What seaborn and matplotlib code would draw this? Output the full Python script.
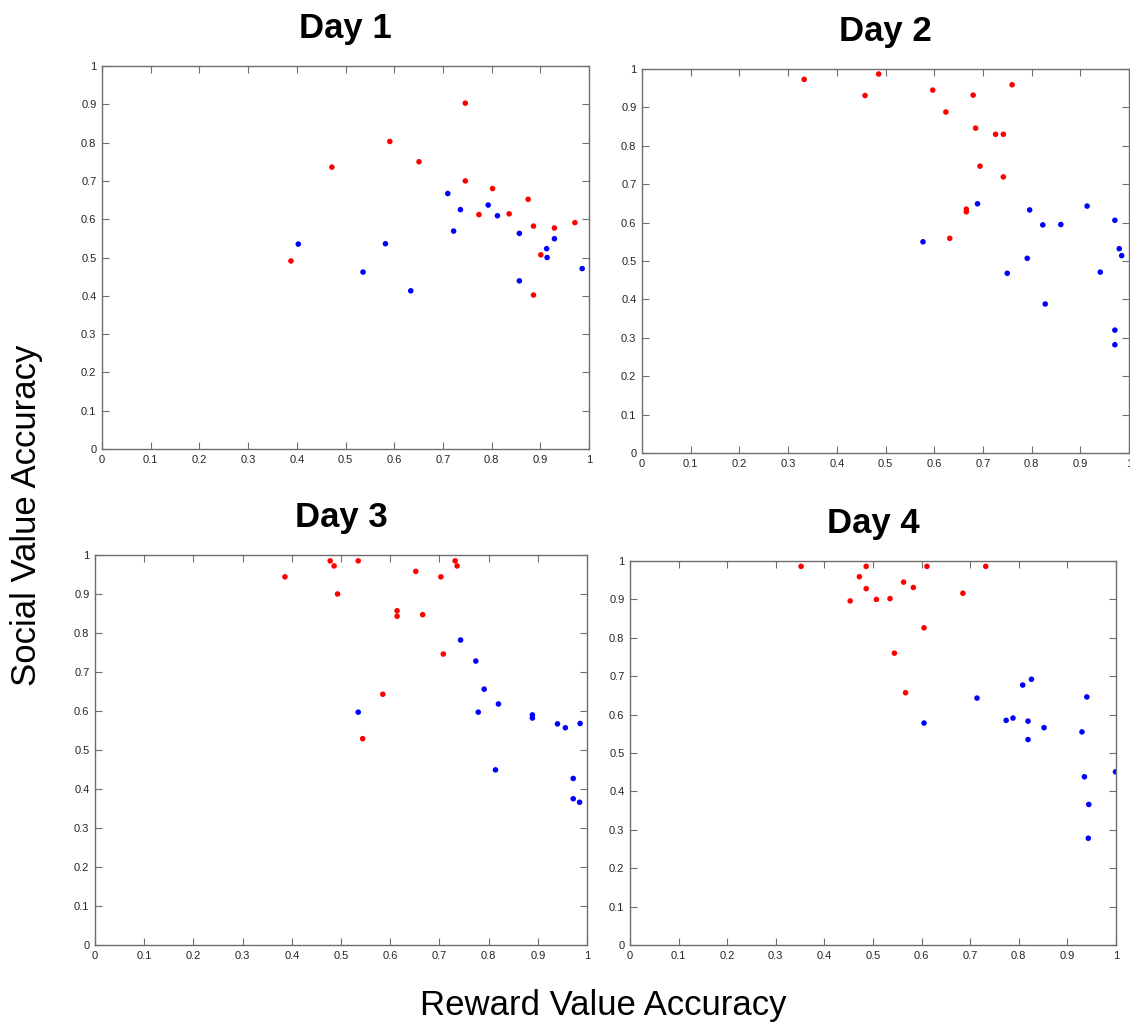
import numpy as np
import pandas as pd
import matplotlib
matplotlib.use("Agg")
import matplotlib.pyplot as plt
import seaborn as sns

# values (reward accuracy, social accuracy)
day1_red_x = [0.388, 0.472, 0.591, 0.651, 0.746, 0.746, 0.774, 0.802, 0.836, 0.875, 0.886, 0.901, 0.886, 0.929, 0.971]
day1_red_y = [0.491, 0.736, 0.803, 0.750, 0.903, 0.700, 0.612, 0.680, 0.614, 0.652, 0.582, 0.507, 0.402, 0.577, 0.591]
day1_blue_x = [0.403, 0.536, 0.582, 0.634, 0.710, 0.722, 0.736, 0.793, 0.812, 0.857, 0.857, 0.913, 0.914, 0.929, 0.986]
day1_blue_y = [0.535, 0.462, 0.536, 0.413, 0.667, 0.569, 0.625, 0.637, 0.609, 0.563, 0.439, 0.523, 0.500, 0.549, 0.471]

day2_red_x = [0.333, 0.458, 0.486, 0.597, 0.624, 0.680, 0.685, 0.666, 0.666, 0.632, 0.694, 0.726, 0.742, 0.742, 0.760]
day2_red_y = [0.973, 0.931, 0.987, 0.945, 0.888, 0.932, 0.846, 0.635, 0.628, 0.559, 0.747, 0.830, 0.830, 0.719, 0.959]
day2_blue_x = [0.577, 0.689, 0.750, 0.791, 0.796, 0.823, 0.828, 0.860, 0.914, 0.941, 0.971, 0.971, 0.971, 0.980, 0.985]
day2_blue_y = [0.550, 0.649, 0.468, 0.507, 0.633, 0.594, 0.388, 0.595, 0.643, 0.471, 0.606, 0.320, 0.282, 0.532, 0.514]

day3_red_x = [0.386, 0.478, 0.486, 0.493, 0.535, 0.544, 0.585, 0.614, 0.614, 0.652, 0.666, 0.703, 0.708, 0.732, 0.736]
day3_red_y = [0.944, 0.985, 0.972, 0.900, 0.985, 0.529, 0.643, 0.857, 0.843, 0.958, 0.847, 0.944, 0.746, 0.985, 0.972]
day3_blue_x = [0.535, 0.743, 0.774, 0.779, 0.791, 0.814, 0.820, 0.889, 0.889, 0.940, 0.956, 0.972, 0.972, 0.985, 0.986]
day3_blue_y = [0.597, 0.782, 0.728, 0.597, 0.656, 0.449, 0.618, 0.590, 0.582, 0.567, 0.557, 0.427, 0.375, 0.366, 0.568]

day4_red_x = [0.352, 0.453, 0.472, 0.486, 0.486, 0.507, 0.535, 0.544, 0.563, 0.567, 0.583, 0.605, 0.611, 0.685, 0.732]
day4_red_y = [0.986, 0.896, 0.959, 0.986, 0.928, 0.900, 0.902, 0.760, 0.945, 0.657, 0.931, 0.826, 0.986, 0.916, 0.986]
day4_blue_x = [0.605, 0.714, 0.774, 0.788, 0.808, 0.819, 0.819, 0.826, 0.852, 0.930, 0.935, 0.940, 0.944, 0.943, 0.999]
day4_blue_y = [0.578, 0.643, 0.585, 0.591, 0.677, 0.583, 0.535, 0.692, 0.566, 0.555, 0.438, 0.646, 0.366, 0.278, 0.451]

days = ["Day 1", "Day 2", "Day 3", "Day 4"]
tick_vals = [0, 0.1, 0.2, 0.3, 0.4, 0.5, 0.6, 0.7, 0.8, 0.9, 1]
tick_labels = ["0", "0.1", "0.2", "0.3", "0.4", "0.5", "0.6", "0.7", "0.8", "0.9", "1"]

series = [
    (day1_red_x, day1_red_y, day1_blue_x, day1_blue_y),
    (day2_red_x, day2_red_y, day2_blue_x, day2_blue_y),
    (day3_red_x, day3_red_y, day3_blue_x, day3_blue_y),
    (day4_red_x, day4_red_y, day4_blue_x, day4_blue_y),
]

rows = []
for day, (rx, ry, bx, by) in zip(days, series):
    for x, y in zip(rx, ry):
        rows.append((day, "red", x, y))
    for x, y in zip(bx, by):
        rows.append((day, "blue", x, y))
df = pd.DataFrame(rows, columns=["day", "group", "reward", "social"])

sns.set_style("white")
plt.rcParams["font.family"] = ["Liberation Sans", "DejaVu Sans"]

fig = plt.figure(figsize=(11.3, 10.28), dpi=100)
W, H = 1130, 1028
# axes boxes in pixels: left, top, right, bottom
boxes = [(102, 66, 589, 449), (642, 69, 1129, 453), (95, 555, 587, 945), (630, 561, 1116, 945)]

spine_col = "#6e6e6e"
label_col = "#262626"
for day, (l, t, r, b) in zip(days, boxes):
    ax = fig.add_axes([l / W, 1 - b / H, (r - l) / W, (b - t) / H])
    sub = df[df["day"] == day]
    sns.scatterplot(data=sub, x="reward", y="social", hue="group",
                    palette={"red": "#ff0000", "blue": "#0000ff"},
                    s=16, linewidth=0, legend=False, ax=ax)
    ax.set_xlim(0, 1)
    ax.set_ylim(0, 1)
    ax.set_xticks(tick_vals)
    ax.set_xticklabels(tick_labels)
    ax.set_yticks(tick_vals)
    ax.set_yticklabels(tick_labels)
    ax.tick_params(direction="in", length=5, width=0.8, labelsize=8,
                   color=spine_col, labelcolor=label_col,
                   top=True, right=True, bottom=True, left=True, pad=4)
    for sp in ax.spines.values():
        sp.set_color(spine_col)
        sp.set_linewidth(1.0)
    ax.set_xlabel("")
    ax.set_ylabel("")
    ax.set_title(day, fontsize=25, fontweight="bold", pad=20, color="black")

fig.text(420 / W, 1 - 1005 / H, "Reward Value Accuracy", fontsize=25, ha="left", va="center", color="black")
fig.text(27 / W, 1 - 515 / H, "Social Value Accuracy", fontsize=25, rotation=90, ha="center", va="center", color="black")

fig.savefig("out.png", dpi=100)
